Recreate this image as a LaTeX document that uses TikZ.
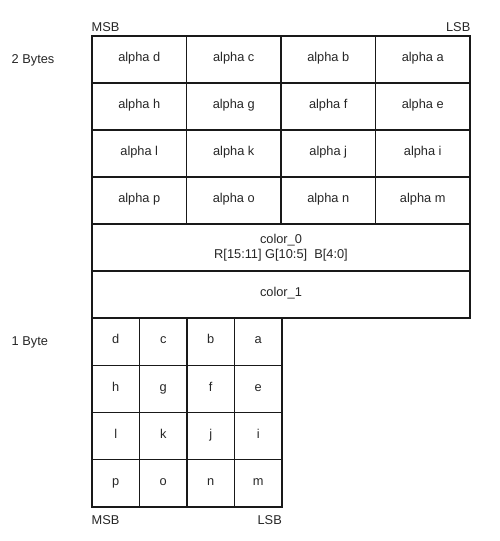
\documentclass[tikz,border=0pt]{standalone}
\usepackage{fontspec}
\setmainfont{Liberation Sans}
\begin{document}
\begin{tikzpicture}[x=1pt,y=-1pt,
  cell/.style={draw=black!90, line width=1.1pt, inner sep=0pt, font=\fontsize{12.8}{15}\selectfont, text=black!85},
  fixed/.style={text height=0.72em, text depth=0.25em},
  big/.style={cell, fixed, minimum width=94.5pt, minimum height=47pt},
  small/.style={cell, fixed, minimum width=47.5pt, minimum height=47.25pt},
  wide/.style={cell, align=center, minimum width=378pt, minimum height=47pt},
  lbl/.style={inner sep=0pt, font=\fontsize{12.8}{15}\selectfont, text=black!85}]
\useasboundingbox (0,0) rectangle (500,541);
% big grid
\foreach \a/\b/\c/\d [count=\i from 0] in {d/c/b/a, h/g/f/e, l/k/j/i, p/o/n/m}{
  \node[big] (A\a) at (139.25, 59.5+47*\i) {alpha \a};
  \node[big] (A\b) at (233.75, 59.5+47*\i) {alpha \b};
  \node[big] (A\c) at (328.25, 59.5+47*\i) {alpha \c};
  \node[big] (A\d) at (422.75, 59.5+47*\i) {alpha \d};
}
\node[wide] (c0) at (281, 247.5) {color\_0\\R[15:11] G[10:5]\ \ B[4:0]};
\node[wide, fixed] (c1) at (281, 294.5) {color\_1};
% small grid
\foreach \a/\b/\c/\d [count=\i from 0] in {d/c/b/a, h/g/f/e, l/k/j/i, p/o/n/m}{
  \node[small] (S\a) at (115.75, 341.6+47.25*\i) {\a};
  \node[small] (S\b) at (163.25, 341.6+47.25*\i) {\b};
  \node[small] (S\c) at (210.75, 341.6+47.25*\i) {\c};
  \node[small] (S\d) at (258.25, 341.6+47.25*\i) {\d};
}
% labels
\node[lbl, anchor=base west] (msbt) at (91.5, 31) {MSB};
\node[lbl, anchor=base east] (lsbt) at (470.5, 31) {LSB};
\node[lbl, anchor=base west] (bytes2) at (11.5, 63) {2 Bytes};
\node[lbl, anchor=base west] (byte1) at (11.5, 345.5) {1 Byte};
\node[lbl, anchor=base west] (msbb) at (91.5, 524) {MSB};
\node[lbl, anchor=base east] (lsbb) at (282, 524) {LSB};
\end{tikzpicture}
\end{document}
